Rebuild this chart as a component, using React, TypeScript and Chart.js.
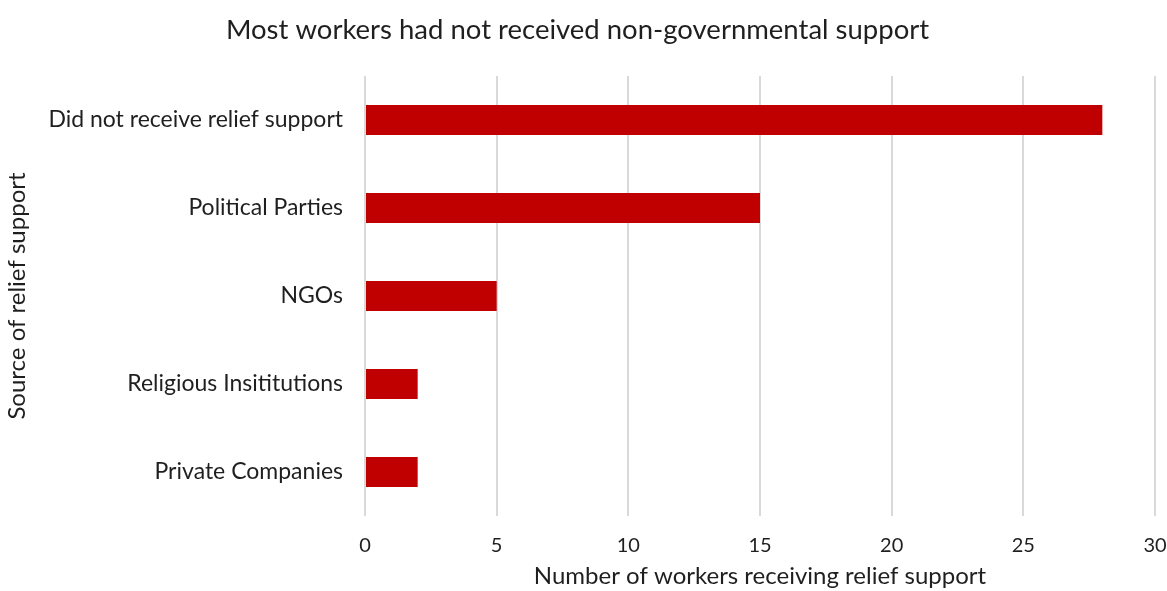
import React, { useEffect, useRef } from "react";
import { Chart, registerables } from "chart.js";

Chart.register(...registerables);

const categories = [
  "Did not receive relief support",
  "Political Parties",
  "NGOs",
  "Religious Insititutions",
  "Private Companies",
];
const workerCounts = [28, 15, 5, 2, 2];

const chartTitle = "Most workers had not received non-governmental support";
const xAxisTitle = "Number of workers receiving relief support";
const yAxisTitle = "Source of relief support";

const FONT = "Lato, 'Open Sans', sans-serif";
const TEXT = "#1f1f1f";

export default function App() {
  const canvasRef = useRef<HTMLCanvasElement | null>(null);

  useEffect(() => {
    document.body.style.margin = "0";
    const canvas = canvasRef.current;
    if (!canvas) return;
    const chart = new Chart(canvas, {
      type: "bar",
      data: {
        labels: categories,
        datasets: [
          {
            data: workerCounts,
            backgroundColor: "#c00000",
            borderWidth: 0,
            categoryPercentage: 1,
            barPercentage: 0.34,
          },
        ],
      },
      options: {
        indexAxis: "y",
        responsive: false,
        animation: false,
        layout: { padding: { left: 0, right: 12, top: 0, bottom: 0 } },
        plugins: {
          legend: { display: false },
          tooltip: { enabled: false },
          title: {
            display: true,
            text: chartTitle,
            color: TEXT,
            font: { family: FONT, size: 27.5, weight: "normal" },
            padding: { top: 13.5, bottom: 29.5 },
          },
        },
        scales: {
          x: {
            min: 0,
            max: 30,
            ticks: {
              stepSize: 5,
              color: TEXT,
              font: { family: FONT, size: 20 },
              padding: 18,
            },
            grid: { color: "#d9d9d9", lineWidth: 2, drawTicks: false },
            border: { display: false },
            title: {
              display: true,
              text: xAxisTitle,
              color: TEXT,
              font: { family: FONT, size: 24 },
              padding: 0,
            },
            afterFit: (scale: any) => {
              scale.height = 75;
              scale.paddingLeft = 0;
              scale.paddingRight = 0;
            },
          },
          y: {
            ticks: {
              color: TEXT,
              font: { family: FONT, size: 23 },
              padding: 22,
            },
            grid: { display: false, drawTicks: false },
            border: { display: false },
            title: {
              display: true,
              text: yAxisTitle,
              color: TEXT,
              font: { family: FONT, size: 24 },
              padding: 2.5,
            },
            afterFit: (scale: any) => {
              scale.width = 365;
            },
          },
        },
      },
    });
    return () => chart.destroy();
  }, []);

  return (
    <div style={{ width: 1167, height: 591, background: "#ffffff" }}>
      <canvas ref={canvasRef} width={1167} height={591} />
    </div>
  );
}
